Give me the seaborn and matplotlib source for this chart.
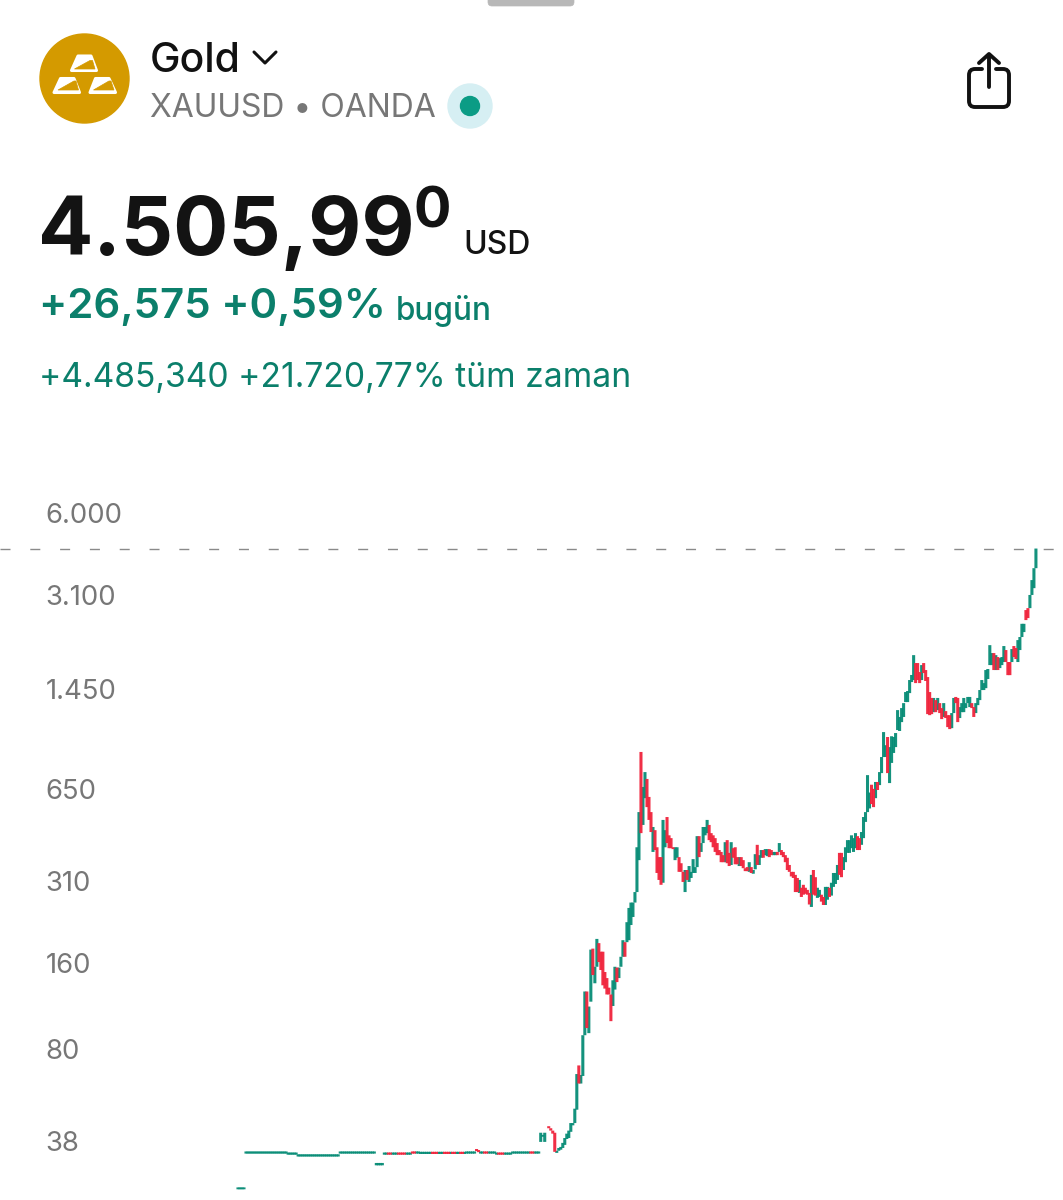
import numpy as np
import pandas as pd
import seaborn as sns
import matplotlib.pyplot as plt
from matplotlib.patches import Ellipse, Polygon, PathPatch, FancyBboxPatch
from matplotlib.path import Path

nan = float('nan')
last_price = 4505.99
tick_values = [6000, 3100, 1450, 650, 310, 160, 80, 38]
tick_labels = ['6.000', '3.100', '1.450', '650', '310', '160', '80', '38']

# quiet years, almost no range per bar
early_high = [26.2, 26.2, 26.2, 26.2,
    35.0, 35.0, 35.0, 35.0, 35.0, 35.0, 35.0, 35.0, 35.0, 35.0, 35.0, 35.0, 35.0, 35.0, 35.0, 35.0, 35.0, 35.0, 35.0, 35.0, 35.0,
    34.7, 34.7, 34.7, 34.7, 34.7,
    34.2, 34.2, 34.2, 34.2, 34.2, 34.2, 34.2, 34.2, 34.2, 34.2, 34.2, 34.2, 34.2, 34.2, 34.2, 34.2, 34.2, 34.2, 34.2, 34.2, 34.2,
    35.0, 35.0, 35.0, 35.0, 35.0, 35.0, 35.0, 35.0, 35.0, 35.0, 35.0, 35.0, 35.0, 35.0, 35.0, 35.0, 35.0, 35.0,
    31.9, 31.9, 31.9, 31.9,
    34.7, 34.7, 34.7, 34.7, 34.7, 34.7, 34.7, 34.7, 34.7, 34.7, 34.7, 34.7, 34.7, 34.7,
    35.0, 35.0, 35.0, 35.0,
    34.9, 34.9, 34.9, 34.9, 34.9, 34.9, 34.9, 34.9, 34.9, 34.9, 34.9, 34.9, 34.9, 34.9, 34.9, 34.9, 34.9, 34.9, 34.9, 34.9, 34.9, 34.9, 34.9,
    35.0, 35.0, 35.0, 35.0, 35.0, 35.7, 35.4,
    35.0, 35.0, 35.0, 35.0, 35.0, 35.0, 35.0, 35.0,
    34.7, 34.7, 34.7, 34.7, 34.7, 34.7, 34.7, 34.7,
    35.0, 35.0, 35.0, 35.0, 35.0, 35.0, 35.0, 35.0, 35.0, 35.0, 35.0, 35.0, 35.0, 35.0]
early_low = [25.8, 25.8, 25.8, 25.8,
    34.4, 34.4, 34.4, 34.4, 34.4, 34.4, 34.4, 34.4, 34.4, 34.4, 34.4, 34.4, 34.4, 34.4, 34.4, 34.4, 34.4, 34.4, 34.4, 34.4, 34.4,
    34.1, 34.1, 34.1, 34.1, 34.1,
    33.6, 33.6, 33.6, 33.6, 33.6, 33.6, 33.6, 33.6, 33.6, 33.6, 33.6, 33.6, 33.6, 33.6, 33.6, 33.6, 33.6, 33.6, 33.6, 33.6, 33.6,
    34.4, 34.4, 34.4, 34.4, 34.4, 34.4, 34.4, 34.4, 34.4, 34.4, 34.4, 34.4, 34.4, 34.4, 34.4, 34.4, 34.4, 34.4,
    31.3, 31.3, 31.3, 31.3,
    34.1, 34.1, 34.1, 34.1, 34.1, 34.1, 34.1, 34.1, 34.1, 34.1, 34.1, 34.1, 34.1, 34.1,
    34.4, 34.4, 34.4, 34.4,
    34.3, 34.3, 34.3, 34.3, 34.3, 34.3, 34.3, 34.3, 34.3, 34.3, 34.3, 34.3, 34.3, 34.3, 34.3, 34.3, 34.3, 34.3, 34.3, 34.3, 34.3, 34.3, 34.3,
    34.4, 34.4, 34.4, 34.4, 34.4, 35.1, 34.8,
    34.4, 34.4, 34.4, 34.4, 34.4, 34.4, 34.4, 34.4,
    34.1, 34.1, 34.1, 34.1, 34.1, 34.1, 34.1, 34.1,
    34.4, 34.4, 34.4, 34.4, 34.4, 34.4, 34.4, 34.4, 34.4, 34.4, 34.4, 34.4, 34.4, 34.4]
early_dir = ('uuuuuuuuuuuuuuuuuuuuuuuuu' 'uuuuuuuuuuuuuuuuuuuuuuuuu' 'uuuuuuuuuuuuuuuuuuuuuuuuu'
    'dd' 'uuu' 'dddd' 'uuu' 'dd' 'uuuuuuuu' 'ddd' 'uuu' 'ddd' 'u' 'dd' 'uu' 'dd' 'uuuuuu' 'dd' 'uu' 'dd'
    'uuuuu' 'ddd' 'uuuuuuuuuuuuu' 'dd' 'uuu')

recent_high = [40.7, 40.0, 40.7, nan, 42.9, 42.2, 41.4, 40.7, 35.2, 36.0,
    36.3, 37.5, 39.0, 40.4, 41.4, 44.0, 44.0, 49.4, 65.3, 70.0, 64.8, 89.3,
    127, 127, 112.5, 178, 179.4, 155, 194, 187.5, 175, 175,
    148.6, 141.5, 131, 124, 139, 155, 154, 154, 168, 192,
    189, 222, 249, 260, 260, 283, 406, 539, 875, 660,
    744, 704, 609, 539, 478, 466, 406, 375, 375, 506,
    466, 518, 447, 437, 406, 406, 406, 375, 357, 333,
    338, 338, 349, 333, 369, 346, 444, 444, 420, 478,
    478, 506, 486, 455, 447, 437, 420, 397, 391, 381,
    423, 430, 388, 423, 403, 406, 375, 375, 375, 366,
    343, 346, 360, 346, 338, 384, 414, 381, 397, 397,
    400, 400, 400, 397, 391, 391, 391, 420, 397, 391,
    381, 373, 352, 333, 333, 325, 317, 312, 293, 300,
    293, 288, 281, 325, 338, 319, 293, 288, 277, 272,
    295, 295, 293, 305, 330, 330, 352, 388, 388, 375,
    406, 430, 430,
    447, 437, 455, 444, 437, 459, 518, 539, 726, 631,
    672, 650, 687, 687, 744, 840, 1027, 924, 987, 910,
    993, 987, 1019, 1226, 1160, 1246, 1297, 1418, 1430, 1562,
    1627, 1909, 1791, 1791, 1666, 1762, 1791, 1693, 1600, 1418,
    1352, 1352, 1329, 1352, 1297, 1246, 1297, 1216, 1177, 1177,
    1197, 1352, 1363, 1352, 1256, 1297, 1352, 1297, 1363, 1363,
    1297, 1256, 1297, 1352, 1441, 1562, 1524, 1693, 1707, 2069,
    1941, 1941, 1909, 1880, 1864, 1880, 2054, 1989, 1806, 1806,
    2005, 2054, 2021, 2155, 2209, 2457, 2457, 2745, 2788, 3100,
    3495, 3847, 4506]
recent_low = [37.8, 39.4, 37.8, nan, 42.2, 41.4, 40.4, 34.9, 34.6, 35.2,
    35.5, 36.0, 36.9, 38.7, 39.0, 41.0, 43.2, 44.0, 49.0, 60.5, 60.5, 64.3,
    89.3, 94.6, 90.8, 117, 145, 135.7, 155, 161, 151, 133.5,
    130, 124, 124, 100, 113, 129, 137, 141.5, 155, 168,
    168, 189, 192, 217, 231.5, 260, 283, 366, 455, 486,
    603, 561, 506, 459, 391, 397, 330, 312, 300, 305,
    406, 420, 403, 403, 400, 366, 373, 333, 333, 307,
    283, 312, 307, 317, 330, 330, 346, 375, 391, 420,
    447, 455, 430, 423, 406, 391, 381, 381, 360, 360,
    360, 357, 349, 352, 373, 354, 354, 349, 349, 343,
    335, 335, 333, 330, 328, 340, 352, 352, 373, 373,
    381, 378, 375, 381, 381, 381, 381, 391, 381, 375,
    360, 338, 333, 321, 317, 283, 283, 281, 272, 277,
    279, 277, 256, 251, 277, 275, 270, 272, 262, 255,
    255, 266, 272, 275, 295, 302, 312, 325, 319, 338,
    360, 388, 388,
    403, 391, 403, 397, 397, 414, 437, 498, 539, 555,
    575, 561, 603, 644, 670, 738, 840, 840, 738, 681,
    801, 868, 910, 1044, 1036, 1113, 1160, 1308, 1308, 1406,
    1537, 1562, 1524, 1562, 1524, 1562, 1652, 1550, 1187, 1177,
    1187, 1206, 1206, 1226, 1197, 1140, 1160, 1150, 1069, 1052,
    1060, 1197, 1297, 1113, 1150, 1206, 1206, 1246, 1297, 1256,
    1246, 1160, 1197, 1276, 1329, 1441, 1441, 1463, 1575, 1762,
    1762, 1693, 1693, 1693, 1720, 1762, 1806, 1806, 1625, 1625,
    1806, 1880, 1850, 1806, 1989, 2209, 2299, 2532, 2573, 2788,
    3100, 3275, 3847]
recent_dir = ('uuuudddduuuuuuuuuuuduu'
    'uduuduuddd' 'dddduuduuu' 'duuuuuuudu' 'uddduddddu' 'udddduuddd' 'uduuuuuduu' 'uudddddddd'
    'uddudddudd' 'dduduuduud' 'uudduududd' 'dddddddudd' 'dddudduudd' 'uuduuuuddu' 'uuu'
    'uuudduuuuu' 'dduduuuudu' 'uuuuuuuuuu' 'uudddudddd' 'dududduddd' 'uudduuuuuu' 'dduuuuuuuu'
    'ududuuuddd' 'udduuuuddu' 'uuu')

sns.set_style('white')
plt.rcParams['font.family'] = ['Inter', 'DejaVu Sans']
plt.rcParams['lines.scale_dashes'] = False

highs = early_high + recent_high
lows = early_low + recent_low
dirs = list(early_dir + recent_dir)
bars = pd.DataFrame({'bar': range(len(highs)), 'high': highs, 'low': lows, 'dir': dirs})
long_bars = bars.melt(id_vars=['bar', 'dir'], value_vars=['low', 'high'], value_name='price').dropna()

fig = plt.figure(figsize=(10.63, 12), dpi=100, facecolor='white')
ax = fig.add_axes([0, 0, 1, 710 / 1200])
ax.set_yscale('log')

sns.lineplot(data=long_bars, x='bar', y='price', units='bar', hue='dir', hue_order=['u', 'd'],
             palette={'u': '#078C76', 'd': '#F0243C'}, estimator=None, sort=False, legend=False,
             lw=2.2, alpha=0.95, solid_capstyle='butt', snap=False, ax=ax)
ax.axhline(last_price, color='#8A8A8A', lw=1.0, linestyle=(0, (7.2, 14.26)), dash_capstyle='butt', zorder=1)

ax.set_xlim(-118.7, 411.5)
ax.set_ylim(23.67, 7222)
ax.set_xticks([])
ax.yaxis.set_minor_locator(plt.NullLocator())
ax.set_yticks(tick_values)
ax.set_yticklabels(tick_labels, ha='left', color='#777777', fontsize=19.8)
ax.tick_params(axis='y', which='major', length=0, pad=-32.8)
ax.set_xlabel('')
ax.set_ylabel('')
sns.despine(ax=ax, left=True, bottom=True)
ax.patch.set_alpha(0)

# header, drawn on a full size axes in pixel units
ui = fig.add_axes([0, 0, 1, 1], zorder=5)
ui.set_xlim(0, 1063)
ui.set_ylim(1200, 0)
ui.axis('off')

gold = '#D49A00'
teal_text = '#0B7F6B'
ui.add_patch(FancyBboxPatch((488, -8), 86, 14, boxstyle='round,pad=0,rounding_size=4', fc='#B8B8B8', ec='#B8B8B8', lw=0.5))
ui.add_patch(Ellipse((84.5, 78.5), 89, 89, color=gold))
for outer, wedge in [
    ([(78, 56), (91, 56), (96.5, 70.5), (71.5, 70.5)], [(74.5, 69), (90, 60.5), (92.5, 60.5), (95, 69)]),
    ([(60.5, 78.5), (74, 78.5), (79.5, 92.5), (54, 92.5)], [(58, 90), (74, 81), (76, 81), (78.5, 90)]),
    ([(95.5, 78.5), (109, 78.5), (115.5, 92.5), (90, 92.5)], [(93.5, 90), (109, 81), (111, 81), (114, 90)]),
]:
    ui.add_patch(Polygon(outer, closed=True, fc='white', ec='white', lw=2.2, joinstyle='round'))
    ui.add_patch(Polygon(wedge, closed=True, fc=gold, ec=gold, lw=0.5))

ui.text(150, 72, 'Gold', fontsize=29.5, fontweight='medium', color='#111111')
ui.plot([254, 265, 276], [52, 63, 52], color='#111111', lw=2.2, solid_capstyle='round', solid_joinstyle='round')
ui.text(150, 117, 'XAUUSD • OANDA', fontsize=23, color='#777777')
ui.add_patch(Ellipse((470, 106), 44, 44, color='#D6EFF3'))
ui.add_patch(Ellipse((470, 106), 19, 19, color='#0B9C85'))

ui.text(38, 255, '4.505,99', fontsize=59, fontweight='bold', color='#131313')
ui.text(414, 228, '0', fontsize=40, fontweight='bold', color='#131313')
ui.text(463, 254, 'USD', fontsize=23, fontweight='medium', color='#131313')
ui.text(39, 318, '+26,575 +0,59%', fontsize=30.2, fontweight='semibold', color=teal_text)
ui.text(396, 320, 'bugün', fontsize=22.7, fontweight='medium', color=teal_text)
ui.text(39, 387, '+4.485,340 +21.720,77% tüm zaman', fontsize=24.2, color=teal_text)

# share icon
box = Path([(982, 69), (975, 69), (969, 69), (969, 75), (969, 101), (969, 107), (975, 107),
            (1003, 107), (1009, 107), (1009, 101), (1009, 75), (1009, 69), (1003, 69), (996, 69)],
           [Path.MOVETO, Path.LINETO, Path.CURVE3, Path.CURVE3, Path.LINETO, Path.CURVE3, Path.CURVE3,
            Path.LINETO, Path.CURVE3, Path.CURVE3, Path.LINETO, Path.CURVE3, Path.CURVE3, Path.LINETO])
ui.add_patch(PathPatch(box, fc='none', ec='#111111', lw=2.8, capstyle='round'))
ui.plot([989, 989], [55, 87], color='#111111', lw=2.8, solid_capstyle='round')
ui.plot([979, 989, 999], [63, 54, 63], color='#111111', lw=2.8, solid_capstyle='round', solid_joinstyle='round')

fig.savefig('out.png', dpi=100)
